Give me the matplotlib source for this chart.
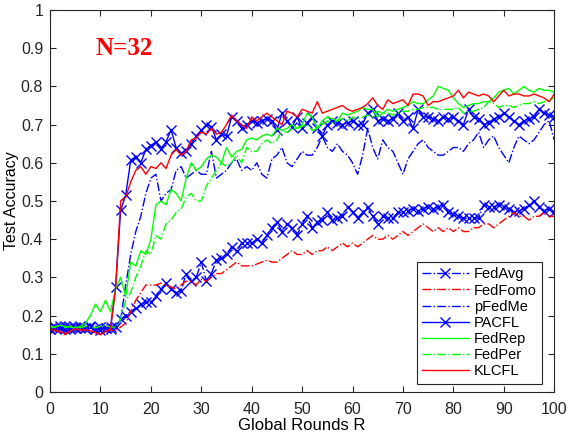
import matplotlib.pyplot as plt
import numpy as np

plt.rcParams['font.family'] = ['Liberation Sans', 'DejaVu Sans']

rounds = np.arange(0, 101)

fedavg = [0.165, 0.170, 0.168, 0.172, 0.165, 0.170, 0.168, 0.167, 0.172, 0.166,
          0.170, 0.168, 0.165, 0.170, 0.190, 0.200, 0.210, 0.220, 0.230, 0.235,
          0.235, 0.250, 0.270, 0.285, 0.270, 0.260, 0.265, 0.310, 0.290, 0.300,
          0.340, 0.290, 0.310, 0.345, 0.350, 0.360, 0.380, 0.370, 0.390, 0.390,
          0.390, 0.400, 0.390, 0.410, 0.430, 0.445, 0.420, 0.440, 0.430, 0.410,
          0.440, 0.460, 0.430, 0.445, 0.450, 0.470, 0.450, 0.455, 0.460, 0.485,
          0.470, 0.455, 0.470, 0.485, 0.460, 0.440, 0.460, 0.455, 0.455, 0.470,
          0.470, 0.475, 0.480, 0.475, 0.480, 0.485, 0.480, 0.485, 0.490, 0.470,
          0.465, 0.460, 0.455, 0.455, 0.455, 0.455, 0.490, 0.485, 0.485, 0.490,
          0.485, 0.480, 0.470, 0.475, 0.480, 0.490, 0.500, 0.485, 0.475, 0.480,
          0.470]

fedfomo = [0.162, 0.160, 0.155, 0.150, 0.158, 0.160, 0.162, 0.160, 0.158, 0.155,
           0.150, 0.158, 0.162, 0.160, 0.170, 0.180, 0.210, 0.240, 0.260, 0.280,
           0.280, 0.280, 0.285, 0.280, 0.275, 0.270, 0.280, 0.290, 0.290, 0.280,
           0.295, 0.290, 0.300, 0.310, 0.310, 0.320, 0.330, 0.340, 0.330, 0.330,
           0.330, 0.335, 0.340, 0.345, 0.340, 0.340, 0.350, 0.360, 0.370, 0.360,
           0.360, 0.370, 0.360, 0.370, 0.370, 0.380, 0.370, 0.380, 0.390, 0.380,
           0.390, 0.380, 0.390, 0.400, 0.410, 0.400, 0.400, 0.410, 0.400, 0.410,
           0.420, 0.410, 0.420, 0.430, 0.440, 0.430, 0.420, 0.430, 0.420, 0.430,
           0.420, 0.430, 0.420, 0.420, 0.430, 0.430, 0.440, 0.440, 0.430, 0.440,
           0.450, 0.460, 0.470, 0.460, 0.460, 0.450, 0.460, 0.460, 0.470, 0.460,
           0.460]

pfedme = [0.170, 0.168, 0.172, 0.170, 0.168, 0.171, 0.169, 0.172, 0.170, 0.168,
          0.165, 0.170, 0.172, 0.170, 0.190, 0.280, 0.360, 0.420, 0.460, 0.520,
          0.560, 0.570, 0.500, 0.520, 0.530, 0.580, 0.590, 0.560, 0.570, 0.580,
          0.570, 0.570, 0.630, 0.560, 0.570, 0.580, 0.600, 0.610, 0.580, 0.590,
          0.580, 0.600, 0.570, 0.560, 0.610, 0.620, 0.640, 0.600, 0.590, 0.610,
          0.630, 0.620, 0.620, 0.640, 0.670, 0.640, 0.630, 0.650, 0.630, 0.620,
          0.600, 0.570, 0.620, 0.690, 0.640, 0.610, 0.660, 0.640, 0.630, 0.600,
          0.570, 0.610, 0.630, 0.650, 0.660, 0.640, 0.630, 0.620, 0.620, 0.630,
          0.640, 0.640, 0.630, 0.650, 0.660, 0.680, 0.640, 0.660, 0.670, 0.640,
          0.620, 0.600, 0.640, 0.670, 0.660, 0.650, 0.660, 0.680, 0.700, 0.710,
          0.660]

pacfl = [0.165, 0.168, 0.172, 0.165, 0.170, 0.168, 0.172, 0.167, 0.170, 0.165,
         0.162, 0.168, 0.170, 0.275, 0.476, 0.515, 0.607, 0.615, 0.600, 0.635,
         0.645, 0.655, 0.635, 0.655, 0.686, 0.640, 0.625, 0.630, 0.650, 0.670,
         0.685, 0.700, 0.695, 0.660, 0.675, 0.670, 0.720, 0.710, 0.690, 0.700,
         0.710, 0.705, 0.710, 0.715, 0.710, 0.685, 0.730, 0.710, 0.695, 0.720,
         0.690, 0.705, 0.720, 0.690, 0.670, 0.700, 0.710, 0.705, 0.700, 0.705,
         0.710, 0.700, 0.700, 0.730, 0.740, 0.710, 0.715, 0.710, 0.715, 0.730,
         0.710, 0.720, 0.690, 0.740, 0.720, 0.720, 0.715, 0.710, 0.720, 0.715,
         0.720, 0.710, 0.700, 0.740, 0.720, 0.715, 0.700, 0.705, 0.715, 0.720,
         0.730, 0.720, 0.710, 0.700, 0.710, 0.715, 0.720, 0.740, 0.730, 0.725,
         0.720]

fedrep = [0.168, 0.170, 0.175, 0.172, 0.170, 0.168, 0.172, 0.180, 0.200, 0.230,
          0.210, 0.240, 0.210, 0.270, 0.300, 0.250, 0.340, 0.330, 0.370, 0.360,
          0.400, 0.490, 0.500, 0.490, 0.530, 0.520, 0.500, 0.560, 0.600, 0.580,
          0.590, 0.610, 0.620, 0.615, 0.600, 0.640, 0.615, 0.630, 0.635, 0.660,
          0.665, 0.660, 0.670, 0.675, 0.670, 0.690, 0.685, 0.690, 0.700, 0.690,
          0.700, 0.730, 0.720, 0.690, 0.710, 0.720, 0.715, 0.710, 0.730, 0.725,
          0.730, 0.735, 0.745, 0.740, 0.740, 0.720, 0.730, 0.740, 0.735, 0.740,
          0.745, 0.750, 0.760, 0.755, 0.755, 0.765, 0.775, 0.800, 0.795, 0.790,
          0.770, 0.755, 0.745, 0.750, 0.755, 0.755, 0.760, 0.760, 0.770, 0.785,
          0.790, 0.795, 0.780, 0.790, 0.800, 0.790, 0.785, 0.795, 0.790, 0.790,
          0.785]

fedper = [0.172, 0.170, 0.175, 0.168, 0.172, 0.170, 0.168, 0.172, 0.170, 0.168,
          0.172, 0.175, 0.170, 0.170, 0.190, 0.240, 0.260, 0.300, 0.330, 0.370,
          0.360, 0.410, 0.400, 0.440, 0.450, 0.470, 0.480, 0.510, 0.520, 0.500,
          0.500, 0.540, 0.560, 0.580, 0.600, 0.590, 0.600, 0.620, 0.600, 0.640,
          0.630, 0.630, 0.650, 0.660, 0.650, 0.660, 0.685, 0.680, 0.690, 0.690,
          0.695, 0.700, 0.685, 0.690, 0.700, 0.710, 0.705, 0.710, 0.715, 0.710,
          0.720, 0.715, 0.720, 0.725, 0.720, 0.735, 0.730, 0.730, 0.725, 0.730,
          0.735, 0.735, 0.740, 0.740, 0.745, 0.745, 0.745, 0.740, 0.740, 0.740,
          0.740, 0.745, 0.730, 0.735, 0.735, 0.740, 0.745, 0.760, 0.755, 0.745,
          0.750, 0.750, 0.745, 0.750, 0.755, 0.755, 0.760, 0.755, 0.760, 0.765,
          0.770]

klcfl = [0.165, 0.162, 0.158, 0.152, 0.160, 0.165, 0.163, 0.162, 0.160, 0.156,
         0.150, 0.158, 0.165, 0.270, 0.500, 0.510, 0.550, 0.580, 0.590, 0.570,
         0.590, 0.585, 0.600, 0.585, 0.620, 0.635, 0.620, 0.630, 0.660, 0.665,
         0.680, 0.675, 0.690, 0.675, 0.680, 0.700, 0.725, 0.710, 0.700, 0.690,
         0.720, 0.710, 0.720, 0.730, 0.720, 0.710, 0.700, 0.735, 0.730, 0.720,
         0.740, 0.735, 0.730, 0.760, 0.730, 0.735, 0.740, 0.745, 0.750, 0.740,
         0.735, 0.740, 0.745, 0.755, 0.770, 0.750, 0.740, 0.765, 0.755, 0.760,
         0.765, 0.750, 0.780, 0.780, 0.775, 0.750, 0.760, 0.760, 0.765, 0.770,
         0.775, 0.790, 0.770, 0.785, 0.780, 0.775, 0.780, 0.775, 0.760, 0.775,
         0.790, 0.775, 0.780, 0.780, 0.775, 0.775, 0.780, 0.775, 0.770, 0.760,
         0.780]

blue = '#0000ff'
red = '#ff0000'
green = '#00ff00'

fig = plt.figure(figsize=(5.69, 4.36), dpi=100)
ax = fig.add_axes([0.088, 0.101, 0.886, 0.876])

ax.plot(rounds, fedavg, color=blue, linestyle='-.', marker='x', markersize=7, lw=1, label='FedAvg')
ax.plot(rounds, fedfomo, color=red, linestyle='-.', lw=1, label='FedFomo')
ax.plot(rounds, pfedme, color=blue, linestyle='-.', lw=1, label='pFedMe')
ax.plot(rounds, pacfl, color=blue, linestyle='-', marker='x', markersize=7, lw=1, label='PACFL')
ax.plot(rounds, fedrep, color=green, linestyle='-', lw=1, label='FedRep')
ax.plot(rounds, fedper, color=green, linestyle='-.', lw=1, label='FedPer')
ax.plot(rounds, klcfl, color=red, linestyle='-', lw=1, label='KLCFL')

ax.set_xlim(0, 100)
ax.set_ylim(0, 1)
ax.set_xticks(np.arange(0, 101, 10))
ax.set_yticks(np.arange(0, 1.01, 0.1))
ax.set_yticklabels(['0', '0.1', '0.2', '0.3', '0.4', '0.5', '0.6', '0.7', '0.8', '0.9', '1'])
ax.tick_params(direction='in', top=True, right=True, labelsize=11.5, length=4,
               colors='#262626')
ax.tick_params(axis='x', pad=7)
ax.tick_params(axis='y', pad=5)
for s in ax.spines.values():
    s.set_color('#262626')
    s.set_linewidth(0.8)

ax.set_xlabel('Global Rounds R', fontsize=12, labelpad=1)
ax.set_ylabel('Test Accuracy', fontsize=11.5, labelpad=1)

ax.text(9, 0.90, 'N=32', color=red, fontsize=18, fontweight='bold',
        family='Liberation Serif', va='center')

leg = ax.legend(loc='lower right', bbox_to_anchor=(0.975, 0.022), borderaxespad=0,
                fontsize=10.5, numpoints=1, handlelength=3.2, handletextpad=0.35,
                labelspacing=0.15, borderpad=0.35, fancybox=False, framealpha=1,
                edgecolor='#262626')
leg.get_frame().set_linewidth(0.8)

fig.savefig('out.png', dpi=100)
